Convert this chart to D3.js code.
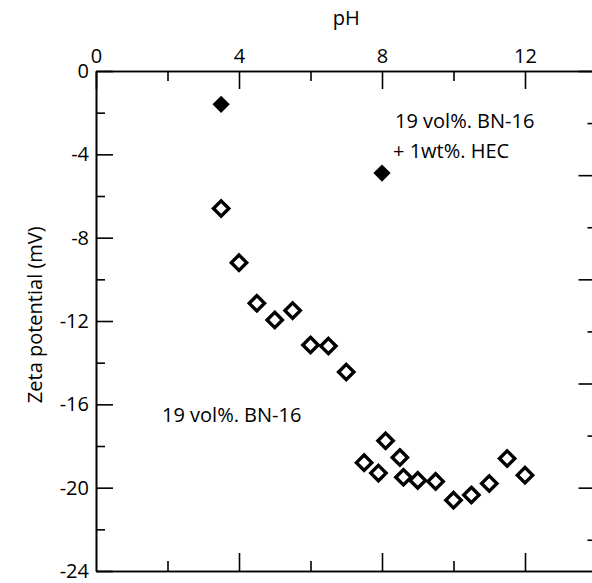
<!DOCTYPE html>
<html>
<head>
<meta charset="utf-8">
<script src="https://cdn.jsdelivr.net/npm/d3@7"></script>
<style>
  body { margin: 0; background: #fff; }
  svg { display: block; font-family: "Open Sans", "Noto Sans", sans-serif; }
  .axis path, .axis line { stroke: #000; stroke-width: 1.6; }
  .axis text { font-size: 20px; fill: #000; font-family: "Open Sans", "Noto Sans", sans-serif; }
  .lbl { font-size: 20px; fill: #000; }
</style>
</head>
<body>
<div id="chart"></div>
<script>
// data
const xTicksMajor = [0, 4, 8, 12];
const xTicksMinor = [2, 6, 10];
const yTicksLeft = [0, -4, -8, -12, -16, -20, -24];
const yTicksLeftMinor = [-2, -6, -10, -14, -18, -22];
const yTicksRight = [0, -5, -10, -15, -20];
const yTicksRightMinor = [-2.5, -7.5, -12.5, -17.5, -22.5];

// 19 vol%. BN-16 + 1wt%. HEC (filled)
const hecPH = [3.5, 8];
const hecZeta = [-1.6, -4.9];

// 19 vol%. BN-16 (open)
const bnPH = [3.5, 4, 4.5, 5, 5.5, 6, 6.5, 7, 7.5, 7.9, 8.1, 8.5, 8.6, 9, 9.5, 10, 10.5, 11, 11.5, 12];
const bnZeta = [-6.6, -9.2, -11.15, -11.95, -11.5, -13.15, -13.2, -14.45, -18.8, -19.3, -17.75, -18.55, -19.5, -19.65, -19.7, -20.6, -20.35, -19.8, -18.6, -19.4];

const width = 592, height = 583;
const margin = {top: 71, left: 96, right: -4.5, bottom: 12};

const svg = d3.select("#chart").append("svg")
    .attr("width", width)
    .attr("height", height);

const x = d3.scaleLinear().domain([0, 14]).range([margin.left, width - margin.right]);
const y = d3.scaleLinear().domain([0, -24]).range([margin.top, height - margin.bottom]);

const fmt = d => String(d);

// top axis
svg.append("g").attr("class", "axis")
    .attr("transform", `translate(0,${margin.top})`)
    .call(d3.axisTop(x).tickValues(xTicksMajor).tickSizeInner(-18).tickSizeOuter(0).tickPadding(8).tickFormat(fmt));
svg.append("g").attr("class", "axis")
    .attr("transform", `translate(0,${margin.top})`)
    .call(d3.axisTop(x).tickValues(xTicksMinor).tickSizeInner(-10).tickSizeOuter(0).tickFormat(""));

// bottom axis
svg.append("g").attr("class", "axis")
    .attr("transform", `translate(0,${y(-24)})`)
    .call(d3.axisBottom(x).tickValues([4, 8, 12]).tickSizeInner(-18).tickSizeOuter(0).tickFormat(""));
svg.append("g").attr("class", "axis")
    .attr("transform", `translate(0,${y(-24)})`)
    .call(d3.axisBottom(x).tickValues(xTicksMinor).tickSizeInner(-10).tickSizeOuter(0).tickFormat(""));

// left axis
svg.append("g").attr("class", "axis")
    .attr("transform", `translate(${margin.left},0)`)
    .call(d3.axisLeft(y).tickValues(yTicksLeft).tickSizeInner(-17).tickSizeOuter(0).tickPadding(7).tickFormat(fmt));
svg.append("g").attr("class", "axis")
    .attr("transform", `translate(${margin.left},0)`)
    .call(d3.axisLeft(y).tickValues(yTicksLeftMinor).tickSizeInner(-9).tickSizeOuter(0).tickFormat(""));

// right axis (sits just past the window edge)
svg.append("g").attr("class", "axis")
    .attr("transform", `translate(${x(14)},0)`)
    .call(d3.axisRight(y).tickValues(yTicksRight).tickSizeInner(-18).tickSizeOuter(0).tickFormat(""));
svg.append("g").attr("class", "axis")
    .attr("transform", `translate(${x(14)},0)`)
    .call(d3.axisRight(y).tickValues(yTicksRightMinor).tickSizeInner(-9).tickSizeOuter(0).tickFormat(""));

// axis titles
svg.append("text").attr("class", "lbl")
    .attr("x", (x(0) + x(14)) / 2)
    .attr("y", 25)
    .attr("text-anchor", "middle")
    .text("pH");

svg.append("text").attr("class", "lbl")
    .attr("transform", `translate(42,${y(-11.7)}) rotate(-90)`)
    .attr("text-anchor", "middle")
    .text("Zeta potential (mV)");

// markers
const diamond = d3.symbol().type(d3.symbolDiamond2);

svg.selectAll(".bn").data(bnPH.map((p, i) => [p, bnZeta[i]]))
    .enter().append("path")
    .attr("class", "bn")
    .attr("d", diamond.size(150))
    .attr("transform", d => `translate(${x(d[0])},${y(d[1])})`)
    .attr("fill", "#fff")
    .attr("stroke", "#000")
    .attr("stroke-width", 3.4);

svg.selectAll(".hec").data(hecPH.map((p, i) => [p, hecZeta[i]]))
    .enter().append("path")
    .attr("class", "hec")
    .attr("d", diamond.size(190))
    .attr("transform", d => `translate(${x(d[0])},${y(d[1])})`)
    .attr("fill", "#000");

// labels
svg.append("text").attr("class", "lbl")
    .attr("x", 162).attr("y", 422)
    .text("19 vol%. BN-16");

svg.append("text").attr("class", "lbl")
    .attr("x", 395).attr("y", 128)
    .text("19 vol%. BN-16");
svg.append("text").attr("class", "lbl")
    .attr("x", 393).attr("y", 158)
    .text("+ 1wt%. HEC");
</script>
</body>
</html>
